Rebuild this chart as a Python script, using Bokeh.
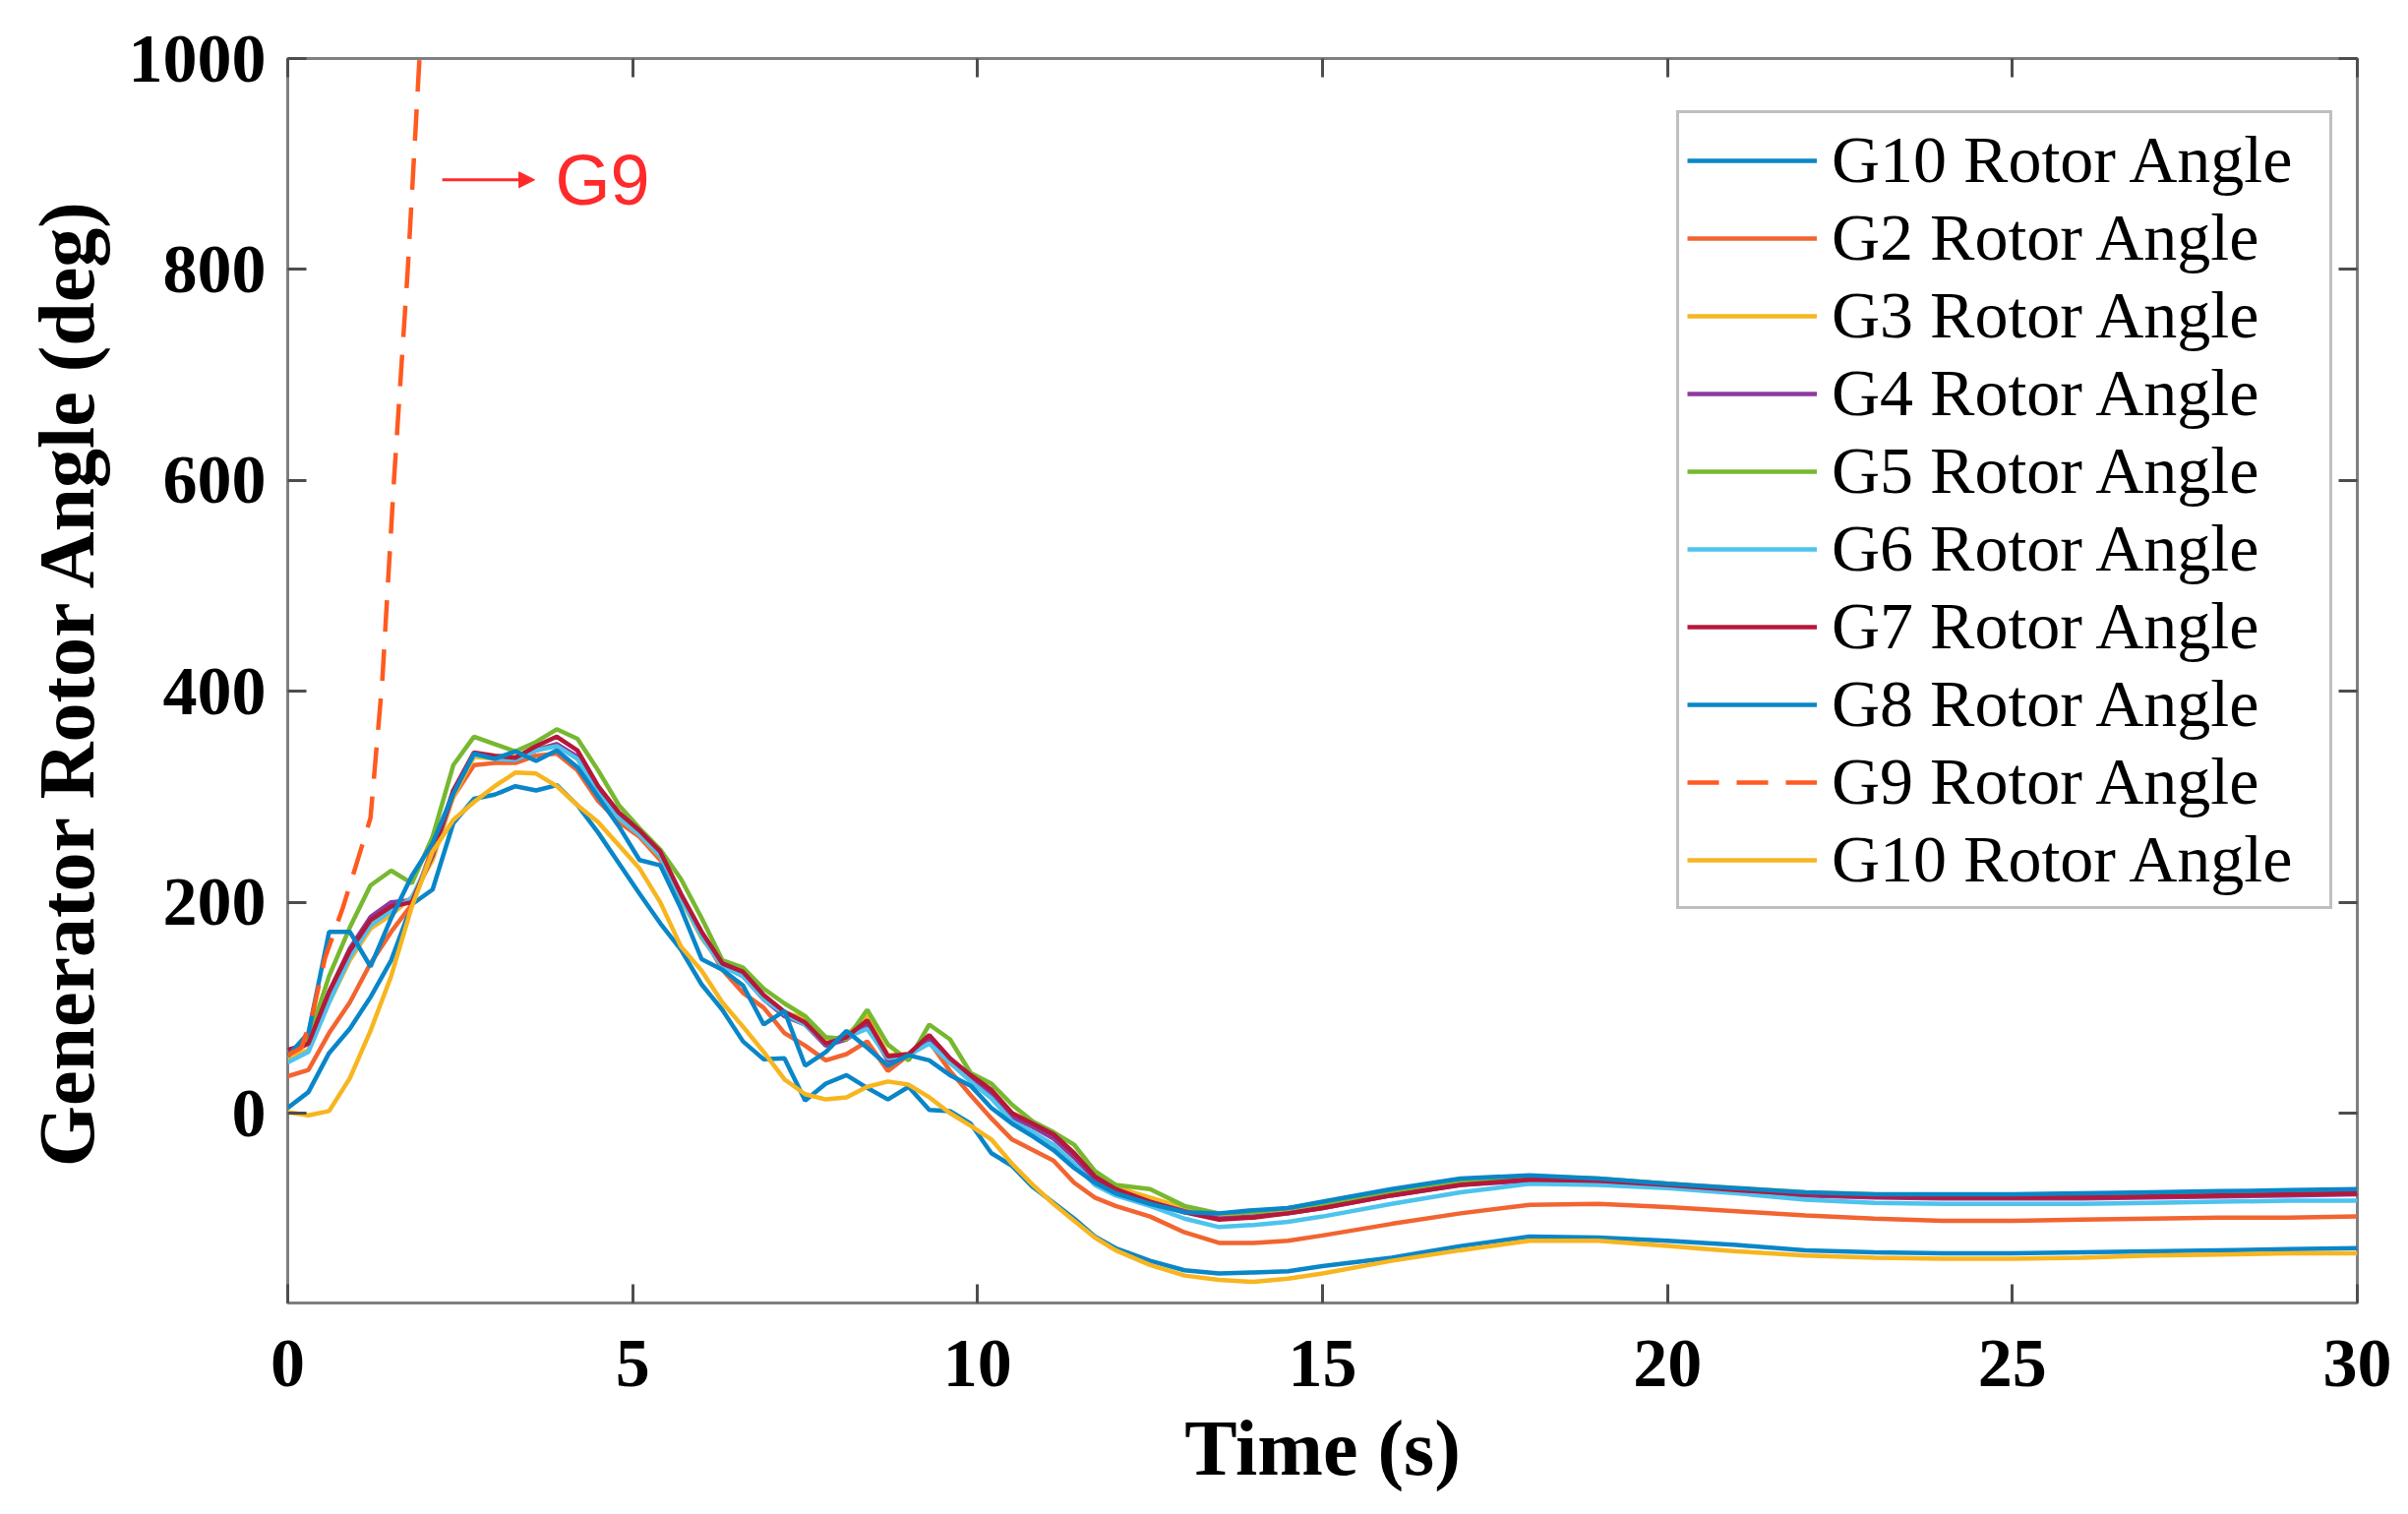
from bokeh.plotting import figure
from bokeh.models import (LinearAxis, Legend, LegendItem, Arrow, NormalHead,
                          Label, FixedTicker, Range1d, CustomJSTickFormatter)
from bokeh.embed import file_html
from bokeh.resources import INLINE

# time base (s) shared by the solid traces
time_s = [0, 0.3, 0.6, 0.9, 1.2, 1.5, 1.8, 2.1, 2.4, 2.7,
          3.0, 3.3, 3.6, 3.9, 4.2, 4.5, 4.8, 5.1, 5.4, 5.7,
          6.0, 6.3, 6.6, 6.9, 7.2, 7.5, 7.8, 8.1, 8.4, 8.7,
          9.0, 9.3, 9.6, 9.9, 10.2, 10.5, 10.8, 11.1, 11.4, 11.7,
          12.0, 12.5, 13.0, 13.5, 14.0, 14.5, 15, 16, 17, 18,
          19, 20, 21, 22, 23, 24, 25, 26, 27, 28, 29, 30]

# rotor angles (deg)
g1 = [5, 20, 57, 80, 110, 145, 198, 212, 275, 298,
      302, 310, 306, 311, 292, 266, 237, 208, 180, 155,
      122, 98, 68, 51, 52, 12, 28, 36, 24, 13,
      25, 3, 2, -10, -38, -50, -70, -85, -100, -117,
      -128, -140, -149, -152, -151, -150, -145, -137, -126, -117,
      -118, -121, -125, -130, -132, -133, -133, -132, -131, -130, -129, -128]
g2 = [35, 41, 76, 105, 142, 172, 198, 252, 300, 330,
      332, 332, 339, 341, 325, 296, 276, 262, 240, 204,
      170, 136, 114, 100, 76, 64, 50, 56, 68, 40,
      55, 68, 40, 17, -5, -25, -35, -45, -66, -80,
      -88, -98, -113, -123, -123, -121, -116, -105, -95, -87,
      -86, -89, -93, -97, -100, -102, -102, -101, -100, -99, -99, -98]
g3 = [52, 60, 105, 145, 175, 188, 205, 240, 300, 338,
      336, 338, 345, 350, 336, 304, 280, 264, 243, 203,
      166, 140, 132, 108, 95, 90, 68, 74, 92, 55,
      56, 70, 50, 36, 22, 0, -10, -20, -38, -60,
      -70, -80, -90, -97, -95, -92, -87, -75, -65, -61,
      -63, -67, -71, -75, -77, -78, -78, -78, -77, -76, -75, -74]
g4 = [56, 66, 115, 156, 186, 200, 202, 244, 303, 341,
      337, 335, 344, 350, 338, 305, 281, 265, 244, 206,
      170, 140, 130, 108, 92, 84, 64, 70, 84, 50,
      54, 70, 48, 32, 18, -4, -13, -24, -42, -63,
      -74, -84, -93, -100, -98, -95, -90, -78, -68, -64,
      -66, -70, -74, -78, -80, -81, -81, -81, -80, -79, -78, -77]
g5 = [57, 70, 130, 176, 216, 230, 218, 262, 330, 357,
      350, 343, 352, 364, 355, 325, 292, 270, 250, 222,
      185, 145, 138, 118, 104, 92, 72, 70, 98, 65,
      50, 84, 70, 38, 28, 8, -8, -18, -30, -55,
      -68, -72, -88, -95, -94, -90, -86, -74, -64, -60,
      -62, -67, -72, -76, -78, -79, -79, -78, -77, -76, -75, -74]
g6 = [48, 58, 105, 148, 178, 192, 204, 246, 306, 340,
      336, 335, 344, 348, 336, 303, 280, 264, 244, 204,
      167, 139, 130, 108, 94, 84, 66, 72, 80, 52,
      55, 66, 48, 30, 14, -8, -18, -30, -48, -68,
      -78, -88, -100, -108, -106, -103, -98, -86, -75, -67,
      -68, -71, -76, -82, -85, -86, -86, -86, -85, -84, -83, -83]
g7 = [60, 66, 115, 154, 183, 196, 200, 246, 306, 342,
      339, 337, 348, 357, 344, 310, 285, 268, 248, 208,
      172, 142, 134, 112, 96, 86, 66, 72, 88, 54,
      56, 74, 52, 36, 22, 0, -10, -20, -38, -60,
      -72, -84, -94, -101, -99, -95, -90, -78, -68, -63,
      -64, -68, -73, -77, -79, -80, -80, -80, -79, -78, -77, -76]
g8 = [54, 76, 172, 172, 139, 185, 225, 256, 303, 341,
      336, 343, 334, 344, 328, 300, 272, 240, 235, 194,
      146, 136, 121, 84, 97, 45, 58, 78, 62, 45,
      55, 50, 36, 26, 5, -10, -22, -35, -52, -66,
      -76, -86, -94, -95, -92, -90, -84, -72, -62, -59,
      -62, -67, -71, -75, -77, -77, -77, -76, -75, -74, -73, -72]
g10 = [1, -2, 2, 33, 78, 130, 196, 248, 278, 295,
       310, 323, 322, 310, 292, 276, 254, 232, 200, 158,
       135, 105, 82, 58, 32, 18, 13, 15, 25, 30,
       27, 15, 0, -12, -25, -48, -68, -86, -102, -118,
       -130, -144, -154, -158, -160, -157, -152, -140, -130, -121,
       -121, -126, -131, -135, -137, -138, -138, -137, -135, -134, -133, -133]

# G9 loses synchronism and runs off the top of the axes
g9_time = [0, 0.2, 0.36, 0.54, 0.8, 1.0, 1.2, 1.37, 1.54, 1.74, 1.91, 2.0]
g9 = [55, 62, 94, 147, 195, 237, 280, 409, 600, 800, 1000, 1130]

labels = ["G10 Rotor Angle", "G2 Rotor Angle", "G3 Rotor Angle", "G4 Rotor Angle",
          "G5 Rotor Angle", "G6 Rotor Angle", "G7 Rotor Angle", "G8 Rotor Angle",
          "G9 Rotor Angle", "G10 Rotor Angle"]
colors = ["#0A86C8", "#F26430", "#F7B520", "#8E3A9E", "#77B830",
          "#4DC3EE", "#B5183A", "#0A86C8", "#FF5A1F", "#F7B520"]

x_ticks = [0, 5, 10, 15, 20, 25, 30]
y_ticks = [0, 200, 400, 600, 800, 1000]

# annotation "-> G9"
arrow_start = (2.24, 885)
arrow_end = (3.58, 885)
g9_note = (3.88, 885)

p = figure(frame_width=2104, frame_height=1265,
           min_border_left=292, min_border_right=44,
           min_border_top=59, min_border_bottom=199,
           x_range=Range1d(0, 30), y_range=Range1d(-180, 1000),
           output_backend="svg", toolbar_location=None,
           background_fill_color="white", border_fill_color="white")

p.xgrid.visible = False
p.ygrid.visible = False
p.outline_line_color = "#7f7f7f"
p.outline_line_width = 3

ys = [g1, g2, g3, g4, g5, g6, g7, g8, None, g10]
items = []
for i, (lab, col) in enumerate(zip(labels, colors)):
    if i == 8:
        r = p.line(g9_time, g9, line_color=col, line_width=4.5, line_dash="32 18")
    else:
        r = p.line(time_s, ys[i], line_color=col, line_width=4.5)
    items.append(LegendItem(label=lab, renderers=[r]))

serif = "Liberation Serif"


def style_axis(ax, ticks, show_labels):
    ax.ticker = FixedTicker(ticks=ticks)
    ax.axis_line_color = None
    ax.major_tick_in = 19
    ax.major_tick_out = 0
    ax.major_tick_line_color = "#4d4d4d"
    ax.major_tick_line_width = 3
    ax.minor_tick_line_color = None
    ax.major_label_text_font = serif
    ax.major_label_text_font_style = "bold"
    ax.major_label_text_color = "black"
    if show_labels:
        ax.major_label_text_font_size = "70px"
    else:
        # mirrored ticks only (MATLAB box style)
        ax.formatter = CustomJSTickFormatter(code="return ''")
        ax.major_label_text_font_size = "10px"
        ax.major_label_standoff = 0


style_axis(p.xaxis[0], x_ticks, True)
style_axis(p.yaxis[0], y_ticks, True)
p.xaxis.major_label_standoff = 38
p.yaxis.major_label_standoff = 22

p.xaxis.axis_label = "Time (s)"
p.yaxis.axis_label = "Generator Rotor Angle (deg)"
for ax in (p.xaxis[0], p.yaxis[0]):
    ax.axis_label_text_font = serif
    ax.axis_label_text_font_style = "bold"
    ax.axis_label_text_font_size = "80px"
    ax.axis_label_text_color = "black"
p.xaxis.axis_label_standoff = 16
p.yaxis.axis_label_standoff = 16

top_axis = LinearAxis()
style_axis(top_axis, x_ticks, False)
p.add_layout(top_axis, "above")
right_axis = LinearAxis()
style_axis(right_axis, y_ticks, False)
p.add_layout(right_axis, "right")

legend = Legend(items=items, location=(1412, 400),
                orientation="vertical", spacing=0, padding=8,
                label_height=78, glyph_height=78, glyph_width=132,
                label_width=498, label_standoff=15,
                label_text_font=serif, label_text_font_size="68px",
                label_text_color="black",
                border_line_color="#7f7f7f", border_line_width=3,
                background_fill_color="white", background_fill_alpha=1.0,
                margin=0)
p.add_layout(legend, "center")

p.add_layout(Arrow(end=NormalHead(size=16, fill_color="#FF2A2A",
                                  line_color="#FF2A2A"),
                   x_start=arrow_start[0], y_start=arrow_start[1],
                   x_end=arrow_end[0], y_end=arrow_end[1],
                   line_color="#FF2A2A", line_width=3))
p.add_layout(Label(x=g9_note[0], y=g9_note[1], text="G9",
                   text_font="Liberation Sans", text_font_size="72px",
                   text_color="#FF2A2A", text_baseline="middle"))

open("out.html", "w").write(file_html(p, INLINE))
